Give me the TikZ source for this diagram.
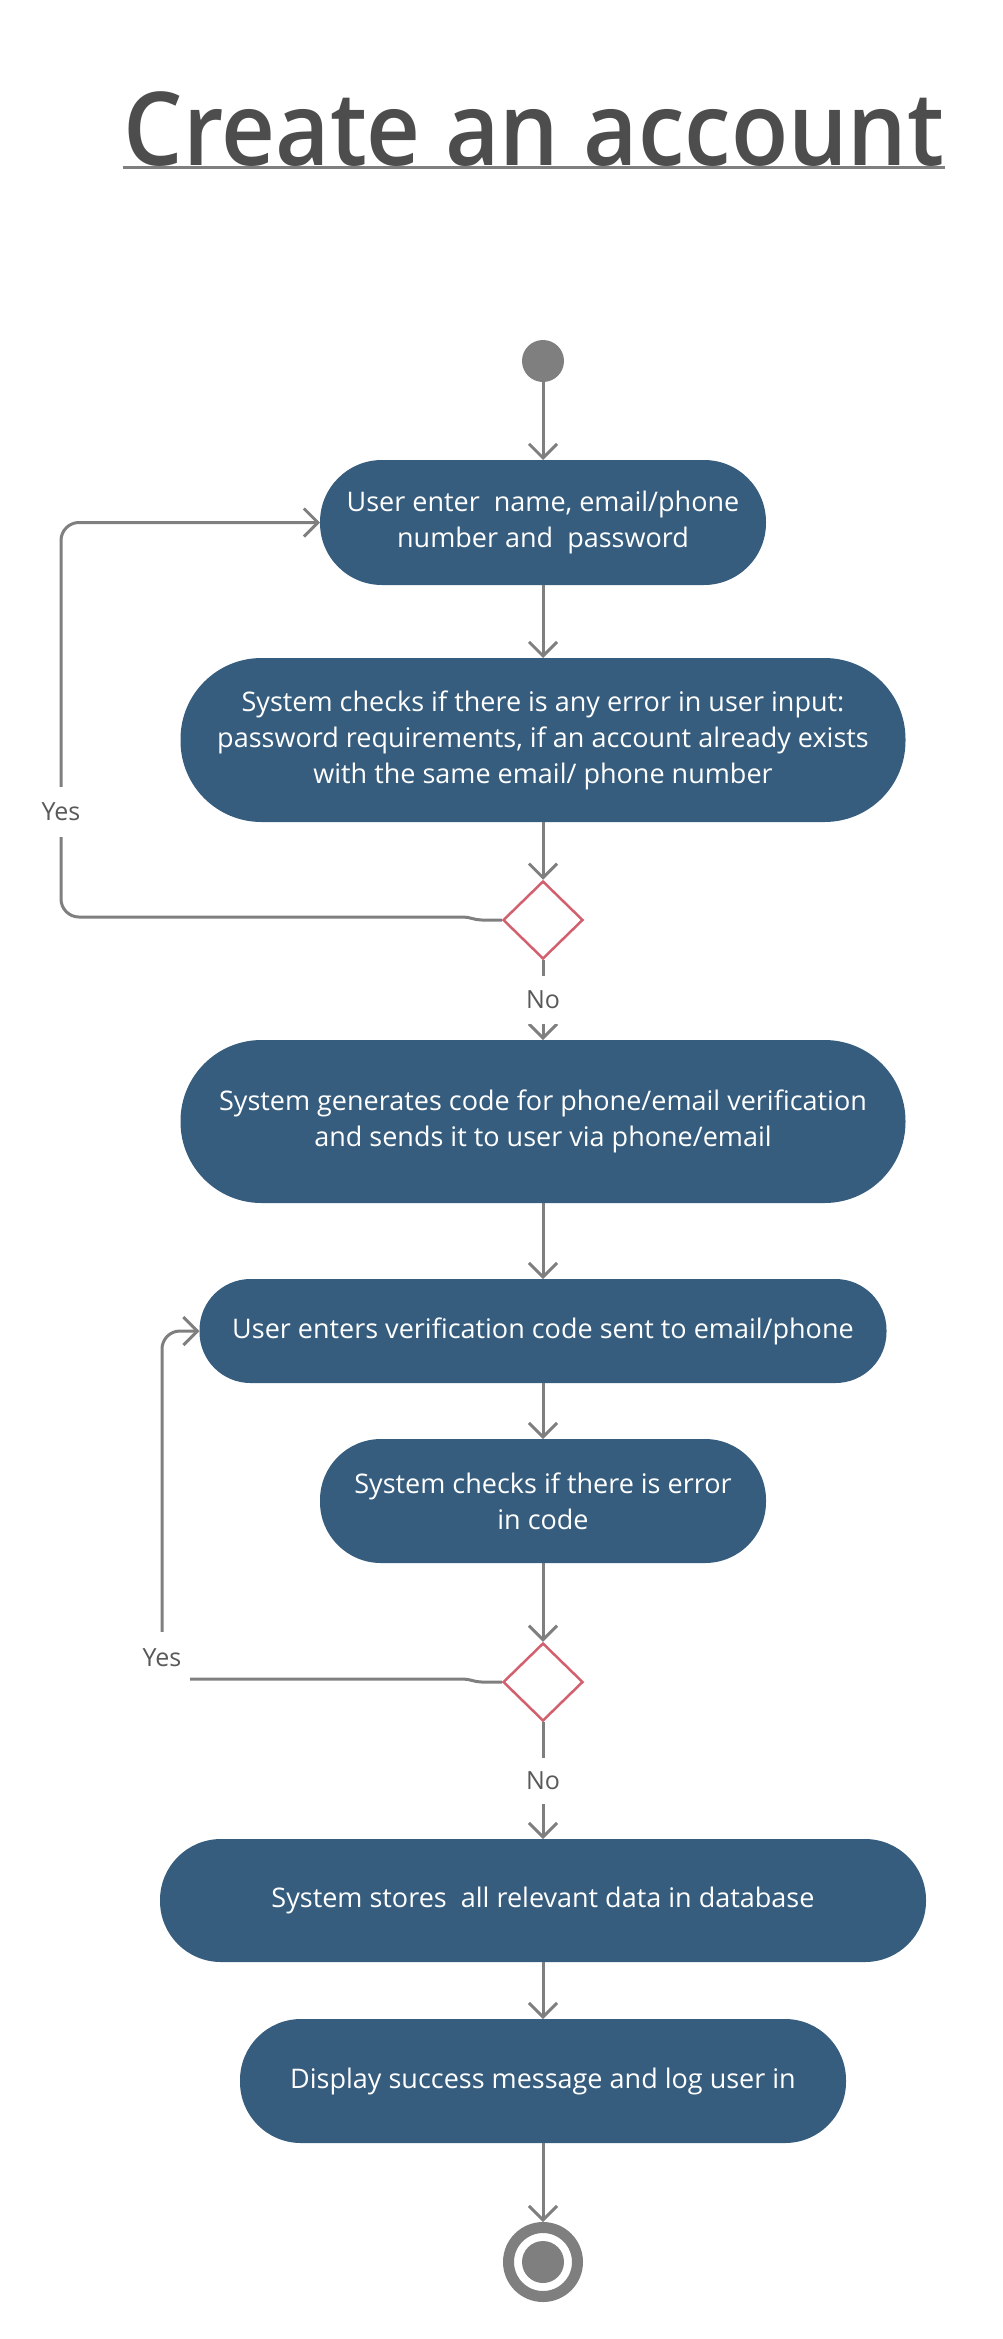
\documentclass[tikz,border=0pt]{standalone}
\usepackage{fontspec}
\setmainfont{Open Sans}
\newfontfamily\titlefont{Open Sans}[UprightFont=* Semibold, FakeStretch=0.92]
\usetikzlibrary{arrows.meta,shapes.geometric}
\definecolor{boxblue}{RGB}{54,93,126}
\definecolor{linegray}{RGB}{127,127,127}
\definecolor{dred}{RGB}{210,96,110}
\definecolor{labgray}{RGB}{89,89,89}
\definecolor{titlegray}{RGB}{77,77,77}
\begin{document}
\begin{tikzpicture}[x=1pt,y=-1pt,
  act/.style={rectangle, fill=boxblue, text=white, align=center, inner sep=0pt, outer sep=0pt, font=\fontsize{27}{36}\selectfont},
  conn/.style={draw=linegray, line width=3pt, -{Straight Barb[length=14pt,width=28pt]}},
  dec/.style={diamond, draw=dred, fill=white, line width=2.5pt, minimum width=80pt, minimum height=78pt, inner sep=0pt},
  lab/.style={fill=white, text=labgray, font=\fontsize{25}{30}\selectfont, inner sep=0pt},
]
\useasboundingbox (0,0) rectangle (1002,2339);

% title
\node[font=\titlefont\fontsize{102}{110}\selectfont, text=titlegray, inner sep=0pt, anchor=base] (title) at (534,165) {Create an account};
\draw[line width=3pt, draw=linegray] ([yshift=-2pt]title.base west) -- ([yshift=-2pt]title.base east);

% nodes
\node[circle, fill=linegray, minimum size=42pt, inner sep=0pt] (start) at (543,361) {};
\node[act, minimum width=446pt, minimum height=125pt, rounded corners=62pt] (b1) at (543,522.5) {User enter~ name, email/phone\\number and~ password};
\node[act, minimum width=725pt, minimum height=164pt, rounded corners=81pt] (b2) at (543,740) {System checks if there is any error in user input:\\password requirements, if an account already exists\\with the same email/ phone number};
\node[dec] (d1) at (543,920) {};
\node[act, minimum width=725pt, minimum height=163pt, rounded corners=81pt] (b3) at (543,1121.5) {System generates code for phone/email verification\\and sends it to user via phone/email};
\node[act, minimum width=687pt, minimum height=104pt, rounded corners=51pt] (b4) at (543,1331) {User enters verification code sent to email/phone};
\node[act, minimum width=446pt, minimum height=124pt, rounded corners=61pt] (b5) at (543,1501) {System checks if there is error\\in code};
\node[dec] (d2) at (543,1682) {};
\node[act, minimum width=766pt, minimum height=123pt, rounded corners=61pt] (b6) at (543,1900.5) {System stores~ all relevant data in database};
\node[act, minimum width=606pt, minimum height=124pt, rounded corners=61pt] (b7) at (543,2081) {Display success message and log user in};
\node[circle, draw=linegray, line width=11pt, fill=white, minimum size=69pt, inner sep=0pt] (end) at (543,2262) {};
\fill[linegray] (end.center) circle[radius=21pt];

% connectors
\draw[conn] (start) -- (b1);
\draw[conn] (b1) -- (b2);
\draw[conn] (b2) -- (d1);
\draw[conn] (d1) -- node[lab, minimum height=48pt, minimum width=40pt] {No} (b3);
\draw[conn] (b3) -- (b4);
\draw[conn] (b4) -- (b5);
\draw[conn] (b5) -- (d2);
\draw[conn] (d2) -- node[lab, minimum height=46pt, minimum width=40pt] {No} (b6);
\draw[conn] (b6) -- (b7);
\draw[conn] (b7) -- (end);

\draw[conn] (d1.west) -- ++(-20,0) to[out=180,in=0] ++(-19,-3) [rounded corners=18pt] -- (61,917) |- (b1.west);
\node[lab, minimum height=50pt, minimum width=40pt] (yes1) at (61,812) {Yes};

\draw[conn] (d2.west) -- ++(-20,0) to[out=180,in=0] ++(-19,-3) [rounded corners=18pt] -- (162,1679) |- (b4.west);
\node[lab, minimum height=52pt, minimum width=56pt] (yes2) at (162,1658) {Yes};
\end{tikzpicture}
\end{document}
